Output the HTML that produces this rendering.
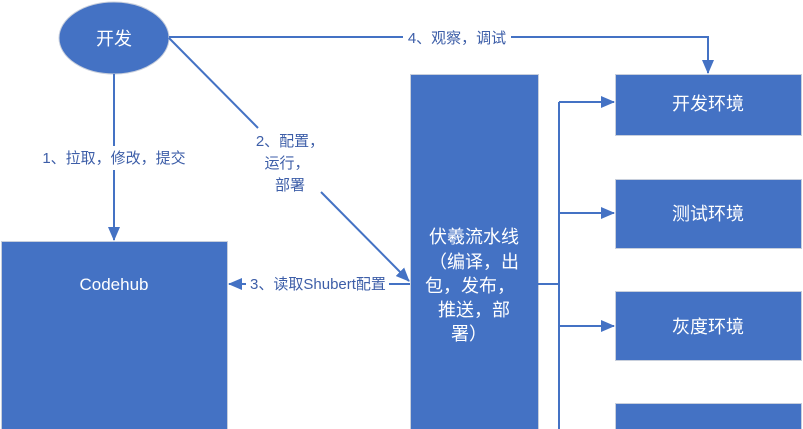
<!DOCTYPE html>
<html><head><meta charset="utf-8"><style>
html,body{margin:0;padding:0;background:#fff;width:803px;height:429px;overflow:hidden}
svg{display:block}
text{font-family:"Liberation Sans","Noto Sans CJK SC",sans-serif}
</style></head><body>
<svg width="803" height="429" viewBox="0 0 803 429" xmlns="http://www.w3.org/2000/svg">
<defs>
<marker id="b" markerWidth="14" markerHeight="12" refX="13" refY="6" orient="auto" markerUnits="userSpaceOnUse"><path d="M0,0 L14,6 L0,12 z" fill="#4472c4"/></marker></defs>
<g fill="#4472c4" stroke="#c8cfdc" stroke-width="1">
<ellipse cx="114" cy="38" rx="55" ry="36"/>
<rect x="1.5" y="241.5" width="226" height="200"/>
<rect x="410.5" y="74.5" width="128" height="370"/>
<rect x="615.5" y="74.5" width="186" height="61"/>
<rect x="615.5" y="179.5" width="186" height="69"/>
<rect x="615.5" y="291.5" width="186" height="69"/>
<rect x="615.5" y="403.5" width="186" height="40"/>
</g>
<g stroke="#4472c4" stroke-width="2" fill="none">
<line x1="114" y1="74" x2="114" y2="240" marker-end="url(#b)"/>
<polyline points="169,37 708,37 708,73" marker-end="url(#b)"/>
<line x1="169" y1="38" x2="258" y2="128"/>
<line x1="321" y1="192" x2="409" y2="281" marker-end="url(#b)"/>
<line x1="410" y1="284" x2="229" y2="284" marker-end="url(#b)"/>
<polyline points="538,284 559,284"/>
<line x1="559" y1="102" x2="559" y2="429"/>
<line x1="559" y1="102" x2="614" y2="102" marker-end="url(#b)"/>
<line x1="559" y1="213" x2="614" y2="213" marker-end="url(#b)"/>
<line x1="559" y1="326" x2="614" y2="326" marker-end="url(#b)"/>
</g>
<rect x="403" y="28" width="108" height="20" fill="#fff"/>
<rect x="246" y="272" width="143" height="24" fill="#fff"/>
<rect x="36" y="146" width="156" height="24" fill="#fff"/>
<g fill="#fff" font-size="18" text-anchor="middle">
<text x="114" y="45">开发</text>
<text x="114" y="290" font-size="17">Codehub</text>
<text x="708" y="110">开发环境</text>
<text x="708" y="220">测试环境</text>
<text x="708" y="333">灰度环境</text>
<text x="474" y="243">伏羲流水线</text>
<text x="474" y="268">（编译，出</text>
<text x="470" y="292">包，发布，</text>
<text x="474" y="316">推送，部</text>
<text x="469" y="340">署）</text>
</g>
<g fill="#3d5ea8" font-size="15" text-anchor="middle">
<text x="114" y="163">1、拉取，修改，提交</text>
<text x="290" y="146">2、配置，</text>
<text x="287" y="168">运行，</text>
<text x="290" y="190">部署</text>
<text x="318" y="289">3、读取Shubert配置</text>
<text x="457" y="43">4、观察，调试</text>
</g>
</svg>
</body></html>
